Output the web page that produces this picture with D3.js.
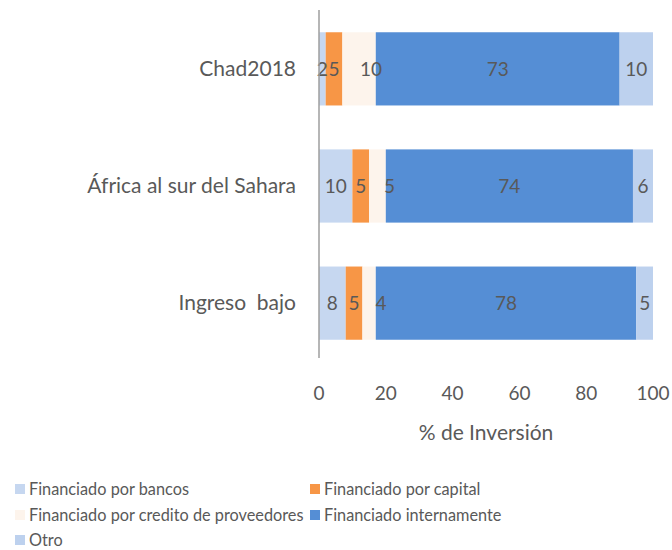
<!DOCTYPE html>
<html>
<head>
<meta charset="utf-8">
<script src="https://cdn.jsdelivr.net/npm/d3@7/dist/d3.min.js"></script>
<style>
  body { margin: 0; background: #fff; }
  text { font-family: Lato, "Liberation Sans", sans-serif; fill: #595959; white-space: pre; }
</style>
</head>
<body>
<div id="chart"></div>
<script>
// categories, top to bottom
const categories = ["Chad2018", "África al sur del Sahara", "Ingreso  bajo"];
const seriesNames = [
  "Financiado por bancos",
  "Financiado por capital",
  "Financiado por credito de proveedores",
  "Financiado internamente",
  "Otro"
];
// one array per series, in category order
const bancos = [2, 10, 8];
const capital = [5, 5, 5];
const credito = [10, 5, 4];
const internamente = [73, 74, 78];
const otro = [10, 6, 5];
const xTicks = [0, 20, 40, 60, 80, 100];
const colors = ["#c6d7f0", "#f79646", "#fdf4ec", "#558ed5", "#bdd1ee"];

const width = 672, height = 550;
const margin = {top: 10, right: 19, bottom: 188, left: 319};

const svg = d3.select("#chart").append("svg")
  .attr("width", width)
  .attr("height", height);

// build rows for the stack
const seriesValues = [bancos, capital, credito, internamente, otro];
const rows = categories.map(function(c, i) {
  let row = {cat: c};
  seriesNames.forEach(function(s, j) { row[s] = seriesValues[j][i]; });
  return row;
});
const stacked = d3.stack().keys(seriesNames)(rows);

let x = d3.scaleLinear()
  .domain([0, 100])
  .range([margin.left, width - margin.right]);

let y = d3.scaleBand()
  .domain(categories)
  .range([margin.top, height - margin.bottom])
  .paddingInner(0.375)
  .paddingOuter(0.19);

// bars
svg.append("g").selectAll("g")
  .data(stacked)
  .enter().append("g")
  .attr("fill", function(d, i) { return colors[i]; })
  .selectAll("rect")
  .data(function(d) { return d; })
  .enter().append("rect")
  .attr("x", function(d) { return x(d[0]); })
  .attr("y", function(d) { return y(d.data.cat); })
  .attr("width", function(d) { return x(d[1]) - x(d[0]); })
  .attr("height", y.bandwidth());

// value labels on top of all bars (the credit labels sit a bit to the right in the original)
let labels = [];
stacked.forEach(function(s) {
  s.forEach(function(p) { labels.push({p: p, idx: s.index}); });
});

svg.append("g").selectAll("text")
  .data(labels)
  .enter().append("text")
  .attr("x", function(d) {
    let mid = (x(d.p[0]) + x(d.p[1])) / 2;
    return d.idx === 2 ? mid + 12 : mid;
  })
  .attr("y", function(d) { return y(d.p.data.cat) + y.bandwidth() / 2; })
  .attr("dy", "0.35em")
  .attr("text-anchor", "middle")
  .style("font-size", "19px")
  .text(function(d) { return d.p[1] - d.p[0]; });

// category labels
svg.append("g").selectAll("text")
  .data(categories)
  .enter().append("text")
  .attr("x", margin.left - 23)
  .attr("y", function(d) { return y(d) + y.bandwidth() / 2; })
  .attr("dy", "0.35em")
  .attr("text-anchor", "end")
  .style("font-size", "21px")
  .text(function(d) { return d; });

// vertical axis line
svg.append("line")
  .attr("x1", x(0)).attr("x2", x(0))
  .attr("y1", margin.top).attr("y2", height - margin.bottom - 4)
  .attr("stroke", "#9e9e9e")
  .attr("stroke-width", 1.5);

// x tick labels
svg.append("g").selectAll("text")
  .data(xTicks)
  .enter().append("text")
  .attr("x", function(d) { return x(d); })
  .attr("y", 393)
  .attr("dy", "0.35em")
  .attr("text-anchor", "middle")
  .style("font-size", "19px")
  .text(function(d) { return d; });

svg.append("text")
  .attr("x", x(50))
  .attr("y", 433)
  .attr("dy", "0.35em")
  .attr("text-anchor", "middle")
  .style("font-size", "21px")
  .text("% de Inversión");

// legend, two columns
const legendCols = [15, 310];
const legendRows = [489, 515, 540];
let legend = svg.append("g").selectAll("g")
  .data(seriesNames)
  .enter().append("g")
  .attr("transform", function(d, i) {
    return "translate(" + legendCols[i % 2] + "," + legendRows[Math.floor(i / 2)] + ")";
  });

legend.append("rect")
  .attr("x", 0).attr("y", -5)
  .attr("width", 10).attr("height", 10)
  .attr("fill", function(d, i) { return colors[i]; });

legend.append("text")
  .attr("x", 14)
  .attr("dy", "0.35em")
  .style("font-size", "16.3px")
  .text(function(d) { return d; });
</script>
</body>
</html>
